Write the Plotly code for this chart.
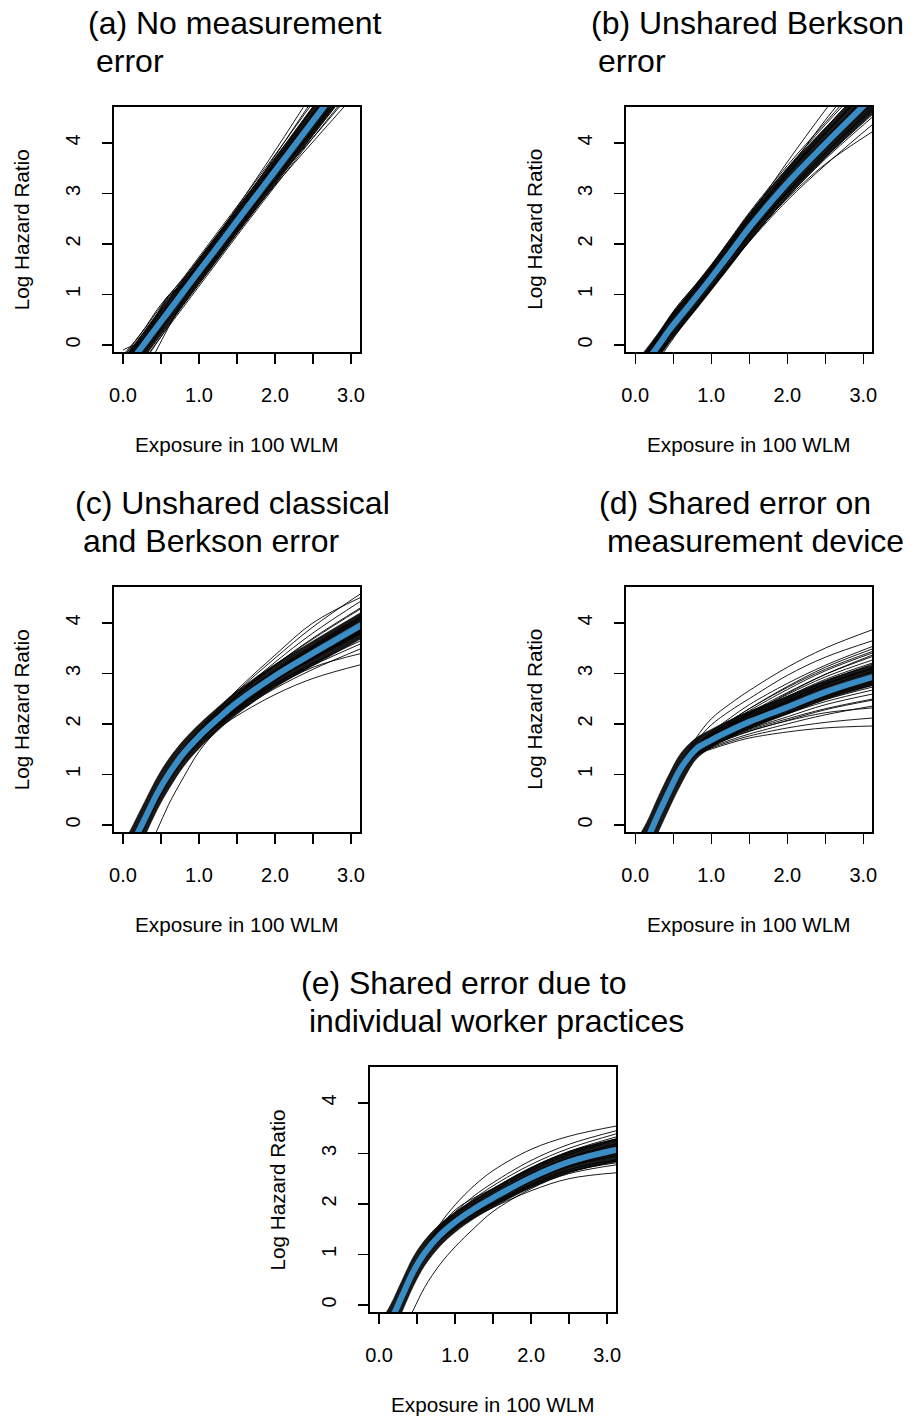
import plotly.graph_objects as go

W, H = 915, 1416
FONT = "Liberation Sans, Arial, sans-serif"

# common exposure grid (100 WLM)
XG = [0.0, 0.15, 0.3, 0.45, 0.6, 0.8, 1.0, 1.25, 1.5, 2.0, 2.5, 3.15]

titles = {
    "a": ["(a) No measurement", "error"],
    "b": ["(b) Unshared Berkson", "error"],
    "c": ["(c) Unshared classical", "and Berkson error"],
    "d": ["(d) Shared error on", "measurement device"],
    "e": ["(e) Shared error due to", "individual worker practices"],
}
x_tick_vals = [0, 0.5, 1, 1.5, 2, 2.5, 3]
x_tick_text = ["0.0", "", "1.0", "", "2.0", "", "3.0"]
y_tick_vals = [0, 1, 2, 3, 4]
y_tick_text = ["0", "1", "2", "3", "4"]
x_label = "Exposure in 100 WLM"
y_label = "Log Hazard Ratio"

# ---- mean curves (blue) ----
mean_a = [-0.54, -0.24, 0.06, 0.36, 0.66, 1.06, 1.46, 1.95, 2.45, 3.44, 4.43, 5.72]
mean_b = [-0.60, -0.32, -0.02, 0.30, 0.58, 0.95, 1.33, 1.82, 2.32, 3.20, 3.98, 4.95]
mean_c = [-0.75, -0.30, 0.16, 0.62, 1.00, 1.42, 1.75, 2.10, 2.42, 2.95, 3.40, 3.97]
mean_d = [-0.70, -0.30, 0.20, 0.68, 1.12, 1.50, 1.68, 1.87, 2.04, 2.33, 2.63, 2.94]
mean_e = [-0.70, -0.32, 0.17, 0.66, 1.03, 1.38, 1.64, 1.90, 2.12, 2.52, 2.83, 3.08]

# ---- dense core of the simulated curves (upper / lower edge) ----
core_hi_a = [-0.29, 0.01, 0.31, 0.61, 0.91, 1.31, 1.71, 2.20, 2.70, 3.70, 4.71, 6.04]
core_lo_a = [-0.79, -0.49, -0.19, 0.11, 0.41, 0.81, 1.21, 1.70, 2.20, 3.18, 4.15, 5.40]
core_hi_b = [-0.35, -0.07, 0.23, 0.55, 0.84, 1.21, 1.59, 2.09, 2.60, 3.50, 4.30, 5.30]
core_lo_b = [-0.85, -0.57, -0.27, 0.05, 0.33, 0.70, 1.08, 1.56, 2.05, 2.92, 3.70, 4.62]
core_hi_c = [-0.40, 0.05, 0.50, 0.94, 1.30, 1.68, 1.99, 2.33, 2.65, 3.18, 3.64, 4.22]
core_lo_c = [-1.10, -0.65, -0.18, 0.30, 0.70, 1.16, 1.51, 1.87, 2.19, 2.72, 3.15, 3.70]
core_hi_d = [-0.35, 0.05, 0.55, 1.02, 1.42, 1.72, 1.89, 2.08, 2.25, 2.55, 2.86, 3.18]
core_lo_d = [-1.05, -0.65, -0.15, 0.34, 0.80, 1.30, 1.53, 1.73, 1.90, 2.19, 2.48, 2.77]
core_hi_e = [-0.38, 0.00, 0.48, 0.95, 1.28, 1.60, 1.84, 2.09, 2.31, 2.72, 3.04, 3.30]
core_lo_e = [-1.02, -0.64, -0.14, 0.37, 0.78, 1.16, 1.44, 1.71, 1.93, 2.32, 2.62, 2.84]

# ---- individual simulated curves (black) ----
sims_a = [
    [-0.30, 0.00, 0.30, 0.62, 0.92, 1.30, 1.70, 2.20, 2.70, 3.70, 4.72, 6.05],
    [-0.80, -0.50, -0.20, 0.10, 0.40, 0.80, 1.20, 1.70, 2.20, 3.18, 4.15, 5.40],
    [-0.25, 0.05, 0.35, 0.66, 0.96, 1.34, 1.74, 2.24, 2.74, 3.76, 4.80, 6.15],
    [-0.85, -0.55, -0.25, 0.06, 0.36, 0.76, 1.16, 1.66, 2.16, 3.14, 4.10, 5.32],
    [-0.45, -0.15, 0.15, 0.45, 0.76, 1.16, 1.57, 2.10, 2.64, 3.74, 4.86, 6.30],
    [-0.40, -0.10, 0.20, 0.50, 0.80, 1.20, 1.62, 2.16, 2.72, 3.84, 5.00, 6.50],
    [-0.50, -0.20, 0.10, 0.42, 0.72, 1.12, 1.52, 2.04, 2.56, 3.62, 4.70, 6.10],
    [-0.30, -0.05, 0.12, 0.55, 0.95, 1.20, 1.50, 1.98, 2.45, 3.42, 4.40, 5.70],
    [-1.20, -0.90, -0.50, -0.08, 0.35, 0.90, 1.35, 1.88, 2.40, 3.42, 4.42, 5.72],
    [-0.25, 0.00, 0.15, 0.60, 0.98, 1.18, 1.45, 1.95, 2.47, 3.47, 4.47, 5.77],
    [-0.50, -0.20, 0.10, 0.40, 0.70, 1.08, 1.45, 1.90, 2.35, 3.25, 4.10, 5.25],
    [-0.62, -0.32, -0.02, 0.28, 0.58, 0.96, 1.34, 1.80, 2.26, 3.16, 4.02, 5.12],
    [-0.65, -0.35, -0.05, 0.27, 0.58, 0.98, 1.39, 1.88, 2.38, 3.36, 4.33, 5.58],
    [-0.42, -0.12, 0.18, 0.49, 0.79, 1.18, 1.57, 2.06, 2.55, 3.55, 4.56, 5.88],
    [-0.10, 0.00, 0.06, 0.40, 0.70, 1.08, 1.47, 1.96, 2.45, 3.44, 4.43, 5.70],
    [-0.70, -0.40, -0.10, 0.20, 0.55, 0.98, 1.38, 1.85, 2.33, 3.28, 4.22, 5.45],
    [-0.35, -0.06, 0.25, 0.56, 0.86, 1.24, 1.62, 2.12, 2.60, 3.58, 4.55, 5.85],
    [-0.72, -0.42, -0.12, 0.19, 0.49, 0.89, 1.30, 1.79, 2.29, 3.28, 4.27, 5.52],
    [-0.90, -0.60, -0.28, 0.05, 0.38, 0.82, 1.25, 1.76, 2.27, 3.27, 4.26, 5.50],
    [-0.20, 0.06, 0.36, 0.70, 0.98, 1.32, 1.68, 2.16, 2.64, 3.62, 4.60, 5.90],
]
sims_b = [
    [-0.40, -0.12, 0.20, 0.56, 0.86, 1.20, 1.58, 2.10, 2.62, 3.55, 4.40, 5.50],
    [-0.45, -0.16, 0.16, 0.50, 0.80, 1.16, 1.54, 2.06, 2.58, 3.50, 4.36, 5.40],
    [-0.48, -0.20, 0.12, 0.46, 0.76, 1.12, 1.50, 2.02, 2.54, 3.62, 4.65, 5.90],
    [-0.50, -0.22, 0.08, 0.42, 0.72, 1.10, 1.48, 2.00, 2.50, 3.44, 4.45, 5.65],
    [-0.52, -0.24, 0.06, 0.38, 0.68, 1.05, 1.45, 1.96, 2.46, 3.38, 4.28, 5.35],
    [-0.50, -0.20, 0.12, 0.52, 0.82, 1.08, 1.42, 1.90, 2.40, 3.28, 4.08, 5.08],
    [-0.75, -0.48, -0.18, 0.12, 0.40, 0.76, 1.12, 1.58, 2.04, 2.86, 3.56, 4.40],
    [-0.72, -0.45, -0.15, 0.16, 0.44, 0.80, 1.16, 1.62, 2.08, 2.90, 3.58, 4.25],
    [-0.80, -0.52, -0.22, 0.08, 0.36, 0.72, 1.10, 1.58, 2.06, 2.92, 3.68, 4.55],
    [-0.68, -0.40, -0.10, 0.22, 0.50, 0.86, 1.22, 1.70, 2.18, 3.04, 3.80, 4.70],
    [-0.65, -0.36, -0.06, 0.26, 0.54, 0.90, 1.28, 1.76, 2.26, 3.12, 3.88, 4.82],
    [-0.55, -0.27, 0.03, 0.35, 0.63, 1.00, 1.38, 1.88, 2.38, 3.28, 4.08, 5.08],
    [-0.85, -0.58, -0.30, 0.02, 0.34, 0.74, 1.14, 1.64, 2.14, 3.02, 3.80, 4.75],
    [-0.42, -0.14, 0.18, 0.52, 0.80, 1.14, 1.50, 2.00, 2.50, 3.40, 4.20, 5.22],
    [-0.62, -0.34, -0.04, 0.28, 0.60, 0.97, 1.35, 1.84, 2.34, 3.22, 4.00, 4.98],
    [-0.70, -0.42, -0.12, 0.20, 0.50, 0.88, 1.25, 1.74, 2.22, 3.10, 3.90, 4.88],
    [-0.58, -0.30, 0.00, 0.34, 0.64, 1.02, 1.41, 1.92, 2.44, 3.36, 4.18, 5.20],
    [-0.66, -0.38, -0.08, 0.24, 0.52, 0.88, 1.26, 1.72, 2.18, 3.00, 3.72, 4.60],
]
sims_c = [
    [-0.70, -0.26, 0.20, 0.66, 1.04, 1.46, 1.80, 2.16, 2.50, 3.06, 3.55, 4.15],
    [-0.80, -0.34, 0.12, 0.58, 0.96, 1.38, 1.70, 2.04, 2.35, 2.86, 3.28, 3.80],
    [-0.72, -0.28, 0.18, 0.64, 1.02, 1.45, 1.78, 2.14, 2.48, 3.04, 3.52, 4.12],
    [-0.78, -0.32, 0.14, 0.60, 0.98, 1.40, 1.72, 2.06, 2.37, 2.88, 3.30, 3.82],
    [-0.70, -0.25, 0.22, 0.68, 1.06, 1.50, 1.86, 2.26, 2.64, 3.30, 3.92, 4.60],
    [-0.72, -0.27, 0.20, 0.66, 1.05, 1.48, 1.83, 2.22, 2.58, 3.22, 3.80, 4.45],
    [-0.74, -0.30, 0.17, 0.63, 1.02, 1.46, 1.82, 2.20, 2.55, 3.16, 3.70, 4.32],
    [-0.85, -0.40, 0.06, 0.50, 0.90, 1.32, 1.64, 1.96, 2.24, 2.70, 3.08, 3.50],
    [-0.82, -0.38, 0.08, 0.54, 0.93, 1.35, 1.66, 2.00, 2.30, 2.78, 3.16, 3.60],
    [-0.90, -0.45, 0.00, 0.45, 0.86, 1.28, 1.60, 1.90, 2.16, 2.58, 2.90, 3.18],
    [-1.40, -1.00, -0.55, -0.10, 0.40, 0.95, 1.45, 1.90, 2.28, 2.85, 3.30, 3.85],
    [-0.76, -0.31, 0.15, 0.61, 1.00, 1.41, 1.74, 2.09, 2.41, 2.94, 3.38, 3.94],
    [-0.74, -0.29, 0.17, 0.63, 1.01, 1.44, 1.77, 2.12, 2.45, 3.00, 3.46, 4.03],
    [-0.77, -0.32, 0.14, 0.60, 0.99, 1.40, 1.72, 2.07, 2.39, 2.90, 3.34, 3.88],
    [-0.73, -0.28, 0.18, 0.64, 1.02, 1.43, 1.76, 2.12, 2.46, 3.02, 3.50, 4.08],
    [-0.79, -0.33, 0.13, 0.59, 0.97, 1.39, 1.71, 2.05, 2.36, 2.87, 3.31, 3.86],
    [-0.71, -0.26, 0.21, 0.67, 1.05, 1.47, 1.82, 2.20, 2.56, 3.16, 3.68, 4.30],
    [-0.80, -0.36, 0.10, 0.56, 0.95, 1.36, 1.68, 2.02, 2.32, 2.80, 3.20, 3.66],
    [-0.68, -0.24, 0.23, 0.69, 1.08, 1.51, 1.88, 2.28, 2.67, 3.36, 4.00, 4.52],
    [-0.84, -0.40, 0.05, 0.52, 0.91, 1.33, 1.65, 1.98, 2.27, 2.74, 3.12, 3.40],
]
sims_d = [
    [-0.70, -0.28, 0.22, 0.72, 1.20, 1.72, 2.10, 2.40, 2.66, 3.12, 3.50, 3.88],
    [-0.70, -0.30, 0.20, 0.70, 1.16, 1.64, 1.98, 2.26, 2.50, 2.96, 3.32, 3.66],
    [-0.72, -0.31, 0.19, 0.67, 1.12, 1.56, 1.80, 2.06, 2.30, 2.72, 3.08, 3.45],
    [-0.70, -0.30, 0.20, 0.68, 1.13, 1.54, 1.76, 2.00, 2.22, 2.62, 2.98, 3.35],
    [-0.71, -0.30, 0.20, 0.68, 1.12, 1.52, 1.73, 1.96, 2.17, 2.54, 2.88, 3.22],
    [-0.72, -0.32, 0.18, 0.66, 1.10, 1.50, 1.70, 1.92, 2.11, 2.46, 2.79, 3.12],
    [-0.70, -0.30, 0.20, 0.68, 1.11, 1.50, 1.68, 1.88, 2.06, 2.38, 2.68, 3.00],
    [-0.72, -0.31, 0.19, 0.67, 1.10, 1.48, 1.65, 1.84, 2.00, 2.30, 2.58, 2.86],
    [-0.73, -0.32, 0.18, 0.66, 1.08, 1.46, 1.62, 1.80, 1.95, 2.22, 2.48, 2.74],
    [-0.74, -0.33, 0.17, 0.65, 1.07, 1.44, 1.60, 1.76, 1.90, 2.14, 2.38, 2.60],
    [-0.75, -0.34, 0.16, 0.64, 1.06, 1.42, 1.57, 1.72, 1.85, 2.07, 2.28, 2.48],
    [-0.76, -0.35, 0.15, 0.62, 1.04, 1.40, 1.54, 1.68, 1.80, 2.00, 2.18, 2.36],
    [-0.78, -0.37, 0.12, 0.60, 1.02, 1.38, 1.50, 1.62, 1.72, 1.84, 1.92, 1.96],
    [-0.77, -0.36, 0.14, 0.61, 1.03, 1.39, 1.52, 1.65, 1.76, 1.92, 2.03, 2.12],
    [-0.70, -0.30, 0.21, 0.69, 1.13, 1.53, 1.78, 2.03, 2.26, 2.68, 3.05, 3.42],
    [-0.71, -0.31, 0.20, 0.67, 1.11, 1.51, 1.72, 1.94, 2.14, 2.50, 2.84, 3.20],
    [-0.72, -0.31, 0.19, 0.67, 1.11, 1.50, 1.69, 1.90, 2.08, 2.42, 2.73, 3.05],
    [-0.73, -0.32, 0.18, 0.66, 1.09, 1.47, 1.64, 1.83, 1.99, 2.28, 2.55, 2.82],
    [-0.74, -0.33, 0.17, 0.65, 1.08, 1.45, 1.61, 1.78, 1.93, 2.20, 2.44, 2.68],
    [-0.70, -0.29, 0.21, 0.69, 1.14, 1.56, 1.84, 2.12, 2.38, 2.80, 3.16, 3.55],
    [-0.71, -0.30, 0.20, 0.68, 1.12, 1.53, 1.75, 1.99, 2.20, 2.58, 2.93, 3.28],
    [-0.72, -0.31, 0.19, 0.67, 1.11, 1.52, 1.74, 1.97, 2.19, 2.60, 2.98, 3.38],
    [-0.73, -0.32, 0.18, 0.66, 1.10, 1.49, 1.67, 1.86, 2.03, 2.34, 2.63, 2.92],
    [-0.74, -0.33, 0.17, 0.65, 1.08, 1.46, 1.63, 1.81, 1.97, 2.26, 2.52, 2.78],
    [-0.75, -0.34, 0.16, 0.64, 1.06, 1.43, 1.58, 1.74, 1.88, 2.10, 2.30, 2.50],
    [-0.70, -0.30, 0.20, 0.69, 1.14, 1.55, 1.80, 2.06, 2.30, 2.74, 3.12, 3.50],
    [-0.76, -0.35, 0.15, 0.63, 1.05, 1.42, 1.56, 1.72, 1.86, 2.06, 2.22, 2.32],
    [-0.71, -0.31, 0.20, 0.68, 1.12, 1.52, 1.71, 1.91, 2.10, 2.44, 2.78, 3.10],
]
sims_e = [
    [-0.70, -0.30, 0.20, 0.70, 1.10, 1.60, 1.98, 2.36, 2.66, 3.08, 3.34, 3.55],
    [-0.70, -0.31, 0.19, 0.69, 1.08, 1.50, 1.80, 2.10, 2.36, 2.78, 3.10, 3.40],
    [-0.71, -0.32, 0.18, 0.67, 1.05, 1.44, 1.72, 2.00, 2.24, 2.66, 2.98, 3.28],
    [-0.70, -0.32, 0.18, 0.67, 1.05, 1.42, 1.69, 1.96, 2.19, 2.60, 2.92, 3.20],
    [-0.71, -0.33, 0.17, 0.66, 1.03, 1.39, 1.65, 1.92, 2.14, 2.54, 2.86, 3.12],
    [-0.72, -0.33, 0.16, 0.65, 1.02, 1.37, 1.62, 1.88, 2.10, 2.49, 2.80, 3.04],
    [-0.72, -0.34, 0.16, 0.64, 1.01, 1.35, 1.60, 1.85, 2.06, 2.44, 2.74, 2.96],
    [-0.73, -0.35, 0.15, 0.63, 1.00, 1.33, 1.57, 1.82, 2.02, 2.39, 2.68, 2.88],
    [-0.74, -0.36, 0.14, 0.62, 0.98, 1.31, 1.54, 1.78, 1.98, 2.33, 2.60, 2.78],
    [-0.75, -0.37, 0.13, 0.60, 0.96, 1.28, 1.50, 1.74, 1.93, 2.26, 2.50, 2.62],
    [-1.30, -0.95, -0.55, -0.10, 0.35, 0.80, 1.15, 1.52, 1.85, 2.30, 2.62, 2.86],
    [-0.69, -0.30, 0.20, 0.70, 1.10, 1.54, 1.88, 2.12, 2.30, 2.70, 3.02, 3.30],
    [-0.70, -0.31, 0.19, 0.68, 1.07, 1.47, 1.76, 2.05, 2.30, 2.72, 3.04, 3.34],
    [-0.71, -0.32, 0.18, 0.67, 1.04, 1.41, 1.68, 1.95, 2.18, 2.58, 2.90, 3.16],
    [-0.72, -0.33, 0.17, 0.66, 1.03, 1.38, 1.64, 1.90, 2.12, 2.52, 2.82, 3.08],
    [-0.73, -0.34, 0.16, 0.64, 1.01, 1.36, 1.61, 1.86, 2.08, 2.46, 2.76, 3.00],
    [-0.70, -0.31, 0.19, 0.69, 1.09, 1.52, 1.84, 2.16, 2.42, 2.86, 3.18, 3.46],
    [-0.73, -0.35, 0.15, 0.63, 0.99, 1.33, 1.56, 1.80, 2.00, 2.36, 2.64, 2.82],
]

panels = [
    # key, mean, core_hi, core_lo, sims, box (left, top, right, bottom) in page px
    ("a", mean_a, core_hi_a, core_lo_a, sims_a, (110, 107, 359, 352)),
    ("b", mean_b, core_hi_b, core_lo_b, sims_b, (628, 107, 877, 352)),
    ("c", mean_c, core_hi_c, core_lo_c, sims_c, (110, 587, 359, 832)),
    ("d", mean_d, core_hi_d, core_lo_d, sims_d, (628, 587, 877, 832)),
    ("e", mean_e, core_hi_e, core_lo_e, sims_e, (369, 1067, 618, 1312)),
]
title_pos = {"a": (82, 23), "b": (590, 23), "c": (69, 503), "d": (599, 503), "e": (297, 983)}


def px(xp):
    return xp / W


def py(yp):
    return 1 - yp / H


BLUE = "#3A8CC4"
fig = go.Figure()
annotations = []
layout = {}

for i, (key, mean, chi, clo, sims, (L, T, R, B)) in enumerate(panels):
    n = "" if i == 0 else str(i + 1)
    xa, ya = "x" + n, "y" + n
    spl = dict(shape="spline", smoothing=1.0)
    fig.add_trace(go.Scatter(x=XG, y=clo, mode="lines", xaxis=xa, yaxis=ya,
                             line=dict(color="black", width=0.6, **spl),
                             showlegend=False, hoverinfo="skip"))
    fig.add_trace(go.Scatter(x=XG, y=chi, mode="lines", xaxis=xa, yaxis=ya,
                             line=dict(color="black", width=0.6, **spl),
                             fill="tonexty", fillcolor="rgba(0,0,0,0.9)",
                             showlegend=False, hoverinfo="skip"))
    for s in sims:
        fig.add_trace(go.Scatter(x=XG, y=s, mode="lines", xaxis=xa, yaxis=ya,
                                 line=dict(color="black", width=0.9, **spl),
                                 showlegend=False, hoverinfo="skip"))
    fig.add_trace(go.Scatter(x=XG, y=mean, mode="lines", xaxis=xa, yaxis=ya,
                             line=dict(color=BLUE, width=6, **spl),
                             showlegend=False, hoverinfo="skip"))
    common = dict(showline=True, mirror=True, linecolor="black", linewidth=2,
                  showgrid=False, zeroline=False, ticks="outside", ticklen=10,
                  tickwidth=1.5, tickcolor="black",
                  tickfont=dict(family=FONT, size=20, color="black"))
    layout["xaxis" + n] = dict(common, domain=[px(L), px(R)], anchor=ya,
                               range=[-0.12, 3.12], tickmode="array",
                               tickvals=x_tick_vals, ticktext=x_tick_text,
                               ticklabelstandoff=14)
    layout["yaxis" + n] = dict(common, domain=[py(B), py(T)], anchor=xa,
                               range=[-0.14, 4.71], tickmode="array",
                               tickvals=y_tick_vals, ticktext=y_tick_text,
                               tickangle=-90, ticklabelstandoff=14)
    tx, ty = title_pos[key]
    for j, line in enumerate(titles[key]):
        annotations.append(dict(text=line, xref="paper", yref="paper",
                                x=px(tx + 8 * j), y=py(ty + 38 * j),
                                xanchor="left", yanchor="middle", showarrow=False,
                                font=dict(family=FONT, size=32, color="black")))
    annotations.append(dict(text=x_label, xref="paper", yref="paper",
                            x=px((L + R) / 2), y=py(B + 92),
                            xanchor="center", yanchor="middle", showarrow=False,
                            font=dict(family=FONT, size=20.7, color="black")))
    annotations.append(dict(text=y_label, xref="paper", yref="paper",
                            x=px(L - 93), y=py((T + B) / 2), textangle=-90,
                            xanchor="center", yanchor="middle", showarrow=False,
                            font=dict(family=FONT, size=20.7, color="black")))

fig.update_layout(width=W, height=H, autosize=False,
                  margin=dict(l=0, r=0, t=0, b=0),
                  paper_bgcolor="white", plot_bgcolor="white",
                  annotations=annotations, **layout)
fig.write_html("out.html",
               config={"displayModeBar": False, "staticPlot": True},
               post_script="document.body.style.margin='0px';"
                           "document.documentElement.style.overflow='hidden';")
